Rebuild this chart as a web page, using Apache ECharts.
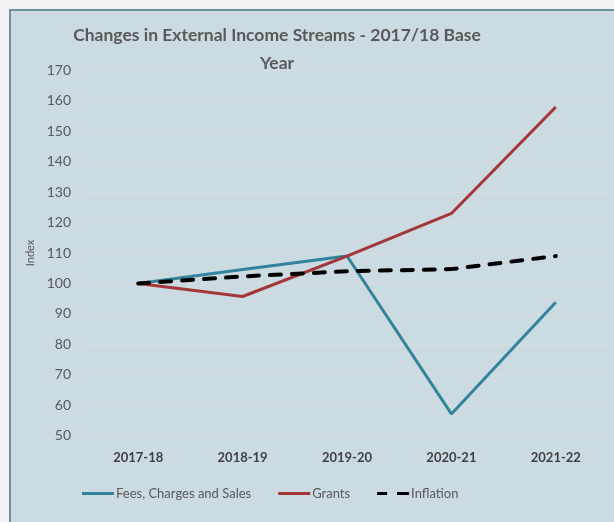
<!DOCTYPE html>
<html>
<head>
<meta charset="utf-8">
<script src="https://cdn.jsdelivr.net/npm/echarts@6/dist/echarts.min.js"></script>
<style>
  body { margin: 0; background: #f2f2f2; overflow: hidden; }
  #frame { position: absolute; left: 9px; top: 9px; width: 640px; height: 560px;
           background: #ccdbe1; border-top: 2px solid #6e939e; border-left: 2px solid #6e939e; }
  #chart { position: absolute; left: 0; top: 0; width: 614px; height: 522px; }
</style>
</head>
<body>
<div id="frame"></div>
<div id="chart"></div>
<script>
var years = ['2017-18', '2018-19', '2019-20', '2020-21', '2021-22']
var fees = [100, 104.6, 109, 57.1, 93.8]
var grants = [100, 95.7, 109, 123, 158]
var inflation = [100, 102.3, 104, 104.7, 109]

var mychart = echarts.init(document.getElementById('chart'))
var txt = '#595959'
var options = {
    backgroundColor: 'transparent',
    textStyle: { fontFamily: 'Lato' },
    title: {
        text: 'Changes in External Income Streams - 2017/18 Base\nYear',
        left: 272, top: 16, textAlign: 'center',
        textStyle: { fontFamily: 'Lato', fontSize: 17.5, fontWeight: 'bold', color: txt, lineHeight: 28 }
    },
    grid: { left: 86, right: 6, top: 70.5, bottom: 86.5 },
    legend: {
        left: 77, top: 482,
        itemWidth: 32, itemHeight: 3, itemGap: 27,
        icon: 'rect',
        textStyle: { fontFamily: 'Lato', fontSize: 13, color: txt, padding: [0, 0, 0, -3] },
        data: [
            { name: 'Fees, Charges and Sales' },
            { name: 'Grants' },
            { name: 'Inflation', icon: 'path://M0,0 L10,0 L10,3 L0,3 Z M20,0 L32,0 L32,3 L20,3 Z', itemStyle: { color: '#000' } }
        ]
    },
    xAxis: {
        type: 'category',
        data: years,
        axisLine: { show: false },
        axisTick: { show: false },
        axisLabel: { fontFamily: 'Lato', fontSize: 13, fontWeight: 'bold', color: '#404040', margin: 16 }
    },
    yAxis: {
        type: 'value',
        min: 50, max: 170, interval: 10,
        name: 'Index',
        nameLocation: 'middle',
        nameGap: 44,
        nameTextStyle: { fontFamily: 'Lato', fontSize: 11, color: txt },
        axisLabel: { fontFamily: 'Lato', fontSize: 14, color: txt, margin: 15 },
        splitLine: { lineStyle: { color: '#dadde0', width: 1 } }
    },
    series: [
        { name: 'Fees, Charges and Sales', type: 'line', data: fees, symbol: 'none',
          itemStyle: { color: '#31849b' }, lineStyle: { color: '#31849b', width: 3 } },
        { name: 'Grants', type: 'line', data: grants, symbol: 'none',
          itemStyle: { color: '#a33638' }, lineStyle: { color: '#a33638', width: 3 } },
        { name: 'Inflation', type: 'line', data: inflation, symbol: 'none',
          itemStyle: { color: '#000' },
          lineStyle: { color: '#000', width: 4, type: [11, 11], cap: 'round' } }
    ]
}
mychart.setOption(options)
</script>
</body>
</html>
